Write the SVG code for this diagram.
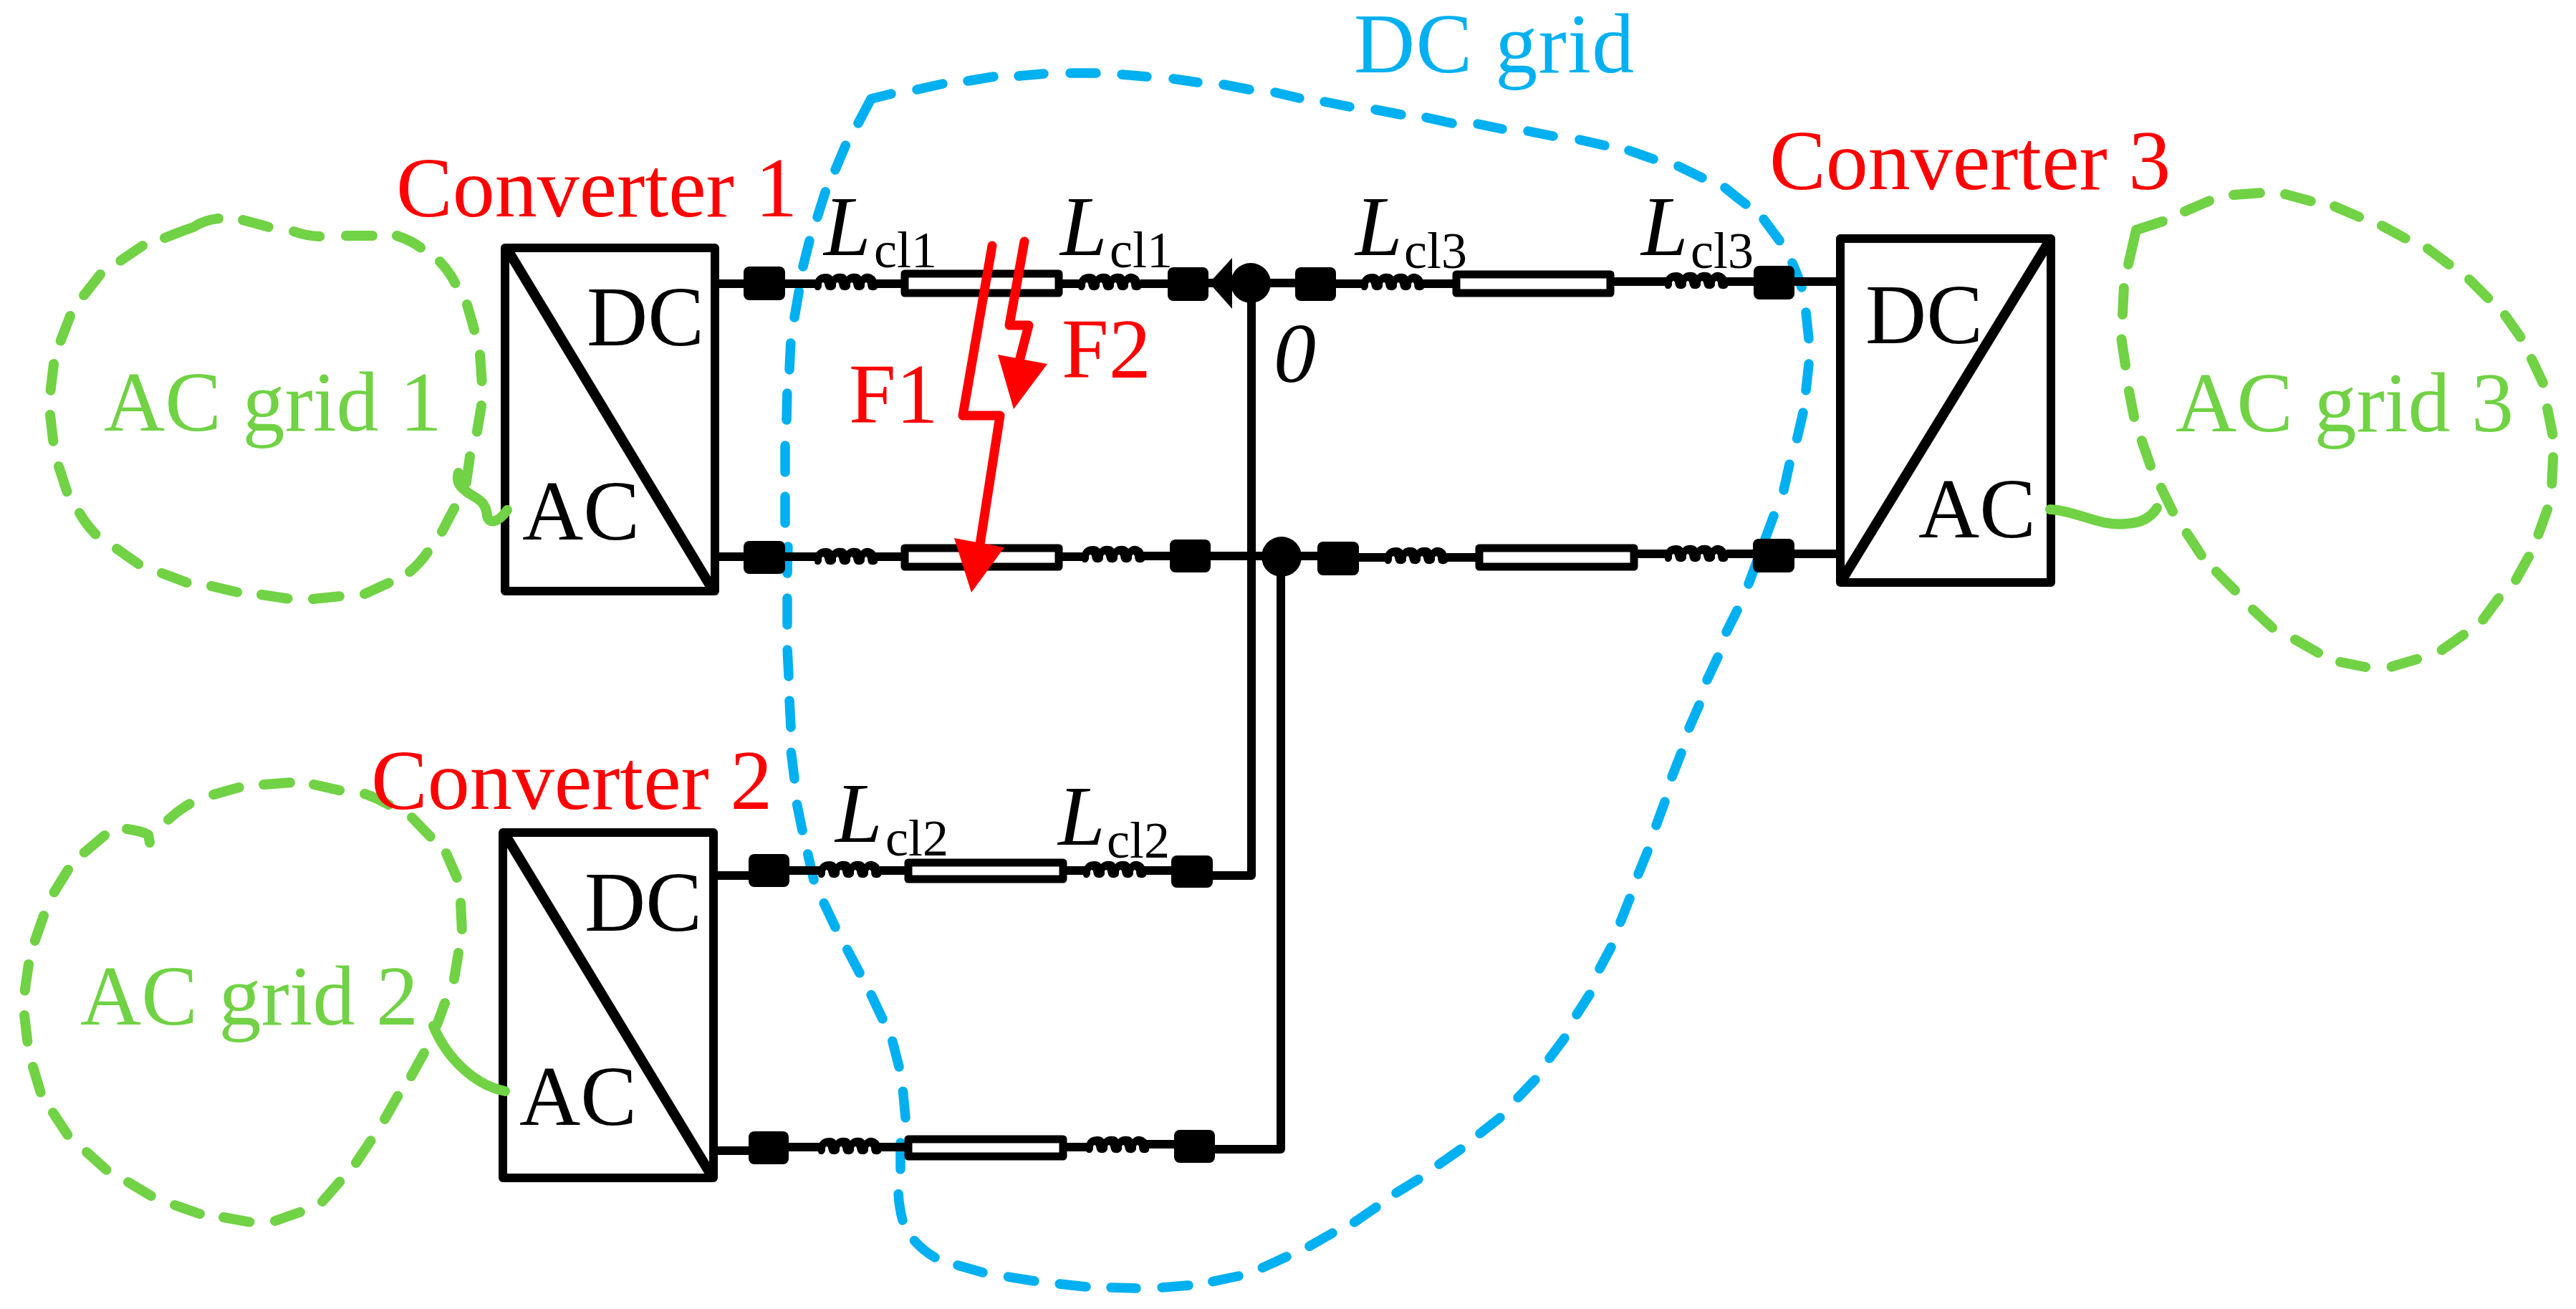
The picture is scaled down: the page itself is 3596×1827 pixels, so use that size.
<svg xmlns="http://www.w3.org/2000/svg" xmlns:xlink="http://www.w3.org/1999/xlink" width="3596" height="1827" viewBox="0 0 3596 1827">
<style>
text{font-family:"Liberation Serif","Times New Roman",serif;font-size:118px}
.red{fill:#ff0000}.grn{fill:#70d244}.blu{fill:#00b0f0}.blk{fill:#000}
.it{font-style:italic}.sub{font-size:72px}
.box{fill:#fff;stroke:#000;stroke-width:12;stroke-linejoin:round}
.diag{fill:none;stroke:#000;stroke-width:14}
.wire{fill:none;stroke:#000;stroke-width:12;stroke-linejoin:round;stroke-linecap:butt}
.sq{fill:#000}
.res{fill:#fff;stroke:#000;stroke-width:11;stroke-linejoin:round}
.gd{fill:none;stroke:#70d244;stroke-width:14;stroke-linecap:round;stroke-linejoin:round}
.bd{fill:none;stroke:#00b0f0;stroke-width:13.5;stroke-linecap:round;stroke-linejoin:round}
.trim{stroke-dasharray:37 300}
.bolt{fill:none;stroke:#ff0000;stroke-width:13;stroke-linecap:round;stroke-linejoin:round}
</style>
<defs>
<path id="coil" d="M0,14 Q3,2 16,2 Q22,2 25,6 Q30,1 38,2 Q42,2 45,6 Q50,1 58,2 Q62,2 65,6 Q70,1 76,2 Q84,3 88,14 L88,22 Q85,26 80,25 Q74,25 74,16 Q72,12 70,16 L70,20 Q68,26 61,25 Q55,25 54,16 Q52,12 50,16 L50,20 Q48,26 41,25 Q35,25 34,16 Q32,12 30,16 L30,20 Q28,26 21,25 Q15,25 14,16 Q12,12 10,16 L10,20 Q8,26 4,25 Q0,25 0,20 Z"/>
</defs>
<rect width="3596" height="1827" fill="#fff"/>

<g id="dc-grid">
<path class="bd" d="M1198,172L1216,138L1244,131M2476,720L2441,815"/>
<path class="bd trim" d="M1280,125L1316,117M1351,113L1387,107M1422,106L1457,103M1494,102L1530,102M1566,104L1601,107M1638,110L1672,115M1708,118L1744,125M1780,129L1814,137M1849,142L1884,149M1920,153L1956,160M1991,164L2027,172M2063,173L2097,180M2133,183L2168,190M2205,195L2240,203M2274,210L2308,222M2343,232L2376,248M2408,262Q2424,275 2437,285M2462,306Q2476,325 2485,337M2502,367Q2510,385 2515,401M2521,436L2525,473M2525,508L2521,545M2517,576L2508,615M2498,648L2490,684M2425,852L2410,882M2398,917L2383,949M2372,984L2358,1016M2347,1051L2334,1084M2324,1119L2312,1152M2300,1188L2287,1220M2275,1254L2262,1287M2249,1322L2233,1352M2219,1388L2201,1416M2184,1449L2163,1477M2143,1507L2119,1532M2094,1560L2066,1582M2039,1604L2009,1625M1980,1646L1949,1665M1921,1685L1889,1707M1860,1721L1827,1740M1796,1754L1761,1770M1729,1781L1691,1789M1659,1794L1621,1797M1586,1798L1551,1797M1516,1796L1479,1792M1444,1788L1407,1782M1372,1776L1337,1766M1305,1755Q1288,1745 1276,1731M1260,1703Q1255,1685 1254,1664M1257,1632L1257,1593M1264,1560L1260,1518M1255,1489L1245,1450M1232,1422L1214,1384M1200,1358L1181,1322M1166,1294L1149,1258M1136,1228L1127,1189M1120,1159L1112,1120M1109,1087L1104,1047M1104,1015L1102,977M1101,944L1099,904M1099,872L1099,832M1099,800L1100,760M1096,730L1096,689M1096,659L1096,617M1098,586L1099,544M1102,516L1104,473M1109,443L1116,402M1121,372L1131,332M1141,303L1153,265M1166,237L1182,199"/>
<text class="blu" x="1890" y="101" letter-spacing="1.3">DC grid</text>
</g>

<g id="connectors">
<path class="wire" d="M998,396H1040M1094,396H1140M1222,396H1260M1480,396H1508M1592,396H1634"/>
<path class="wire" d="M1685,395H1810M1862,396H1904M1984,396H2036M2245,393H2328M2408,393H2450M2503,393H2566"/>
<path class="wire" d="M998,777H1040M1094,777H1140M1222,777H1260M1480,777H1514M1596,776H1636M1688,776H1789H1842M1895,778H1936M2018,778H2062M2284,773H2327M2410,773H2450M2503,773H2566"/>
<path class="wire" d="M996,1222H1047M1099,1215H1145M1227,1215H1268M1487,1215H1515M1596,1215H1637M1691,1222H1747V395"/>
<path class="wire" d="M996,1606H1047M1099,1601H1145M1227,1601H1268M1487,1601H1519M1600,1597H1641M1694,1604H1788V778"/>
</g>

<g id="line-components">
<rect class="res" x="1263" y="382" width="215" height="27"/>
<rect class="res" x="2033" y="383" width="215" height="26"/>
<rect class="res" x="1263" y="765" width="215" height="26"/>
<rect class="res" x="2065" y="765" width="216" height="26"/>
<rect class="res" x="1268" y="1204" width="216" height="23"/>
<rect class="res" x="1268" y="1590" width="216" height="24"/>
<use href="#coil" x="1137" y="380"/><use href="#coil" x="1505" y="380"/><use href="#coil" x="1900" y="380"/><use href="#coil" x="2324" y="378"/>
<use href="#coil" x="1137" y="763"/><use href="#coil" x="1510" y="760"/><use href="#coil" x="1933" y="762"/><use href="#coil" x="2324" y="759"/>
<use href="#coil" x="1142" y="1200"/><use href="#coil" x="1512" y="1200"/>
<use href="#coil" x="1142" y="1586"/><use href="#coil" x="1516" y="1584"/>
<rect class="sq" x="1038" y="372" width="58" height="47" rx="8"/>
<rect class="sq" x="1630" y="373" width="57" height="47" rx="8"/>
<rect class="sq" x="1808" y="373" width="57" height="47" rx="8"/>
<rect class="sq" x="2448" y="371" width="57" height="47" rx="8"/>
<rect class="sq" x="1038" y="755" width="58" height="46" rx="8"/>
<rect class="sq" x="1633" y="753" width="57" height="46" rx="8"/>
<rect class="sq" x="1839" y="756" width="58" height="47" rx="8"/>
<rect class="sq" x="2447" y="752" width="58" height="47" rx="8"/>
<rect class="sq" x="1045" y="1192" width="57" height="46" rx="8"/>
<rect class="sq" x="1635" y="1194" width="58" height="45" rx="8"/>
<rect class="sq" x="1045" y="1579" width="56" height="46" rx="8"/>
<rect class="sq" x="1639" y="1577" width="57" height="46" rx="8"/>
</g>

<g id="node-0">
<circle cx="1746" cy="395" r="28"/>
<polygon points="1688,395 1720,360 1720,431"/>
<text class="blk it" x="1778" y="533">0</text>
</g>
<g id="junction-2"><circle cx="1789" cy="777" r="28"/></g>

<g id="converter-1">
<rect class="box" x="705" y="346" width="293" height="479"/>
<line class="diag" x1="707" y1="346" x2="996" y2="825"/>
<text class="blk" x="819" y="482">DC</text>
<text class="blk" x="729" y="753">AC</text>
<text class="red" x="553" y="302">Converter 1</text>
</g>
<g id="converter-2">
<rect class="box" x="702" y="1162" width="294" height="482"/>
<line class="diag" x1="704" y1="1163" x2="994" y2="1642"/>
<text class="blk" x="816" y="1299">DC</text>
<text class="blk" x="725" y="1570">AC</text>
</g>
<g id="converter-3">
<rect class="box" x="2569" y="333" width="294" height="480"/>
<line class="diag" x1="2863" y1="333" x2="2569" y2="813"/>
<text class="blk" x="2604" y="479">DC</text>
<text class="blk" x="2678" y="750">AC</text>
<text class="red" x="2470" y="264">Converter 3</text>
</g>

<g id="ac-grid-1">
<path class="gd" d="M305,305Q285,307 270,317Q250,324 230,332"/>
<path class="gd trim" d="M656,637L650,680M672,566L665,608M670,495L673,537M652,425L664,467M614,365Q630,382 638,401M554,329Q575,336 589,347M483,329L523,329M410,323Q430,330 449,330M339,307L379,318M199,343L165,366M140,383L114,416M98,441L83,480M75,508L70,550M70,579L75,622M82,651L95,691M111,716Q122,735 137,749M163,766L196,789M226,800L263,814M295,818L333,827M365,830L405,836M437,836L477,832M509,829L546,812M572,798Q588,785 600,766M617,742L637,704"/>
<path class="gd" d="M708,712C695,730 683,732 680,720C678,695 660,695 650,685C640,678 637,670 640,660"/>
<text class="grn" x="145" y="601">AC grid 1</text>
</g>
<g id="ac-grid-2">
<path class="gd" d="M177,1157Q198,1160 207,1165L209,1176"/>
<path class="gd trim" d="M621,1400L610,1430M640,1330L633,1372M643,1260L645,1301M623,1191L640,1230M575,1141L602,1169M509,1108Q530,1115 551,1128M438,1095L478,1104M368,1095L409,1092M298,1109L337,1098M235,1144Q250,1130 268,1120M146,1166L114,1193M95,1214L72,1251M61,1278L47,1318M40,1346L34,1387M34,1417L39,1459M46,1489L58,1529M74,1553L97,1588M121,1608L151,1635M179,1650L214,1671M244,1682L281,1695M312,1699L351,1706M384,1704L421,1691M450,1677L478,1645M497,1623L521,1587M537,1562L558,1525M574,1502L595,1464"/>
<path class="gd" d="M605,1432C625,1480 665,1515 705,1523"/>
<text class="grn" x="112" y="1430">AC grid 2</text>
</g>
<g id="ac-grid-3">
<path class="gd" d="M2971,369L2982,321L3019,309"/>
<path class="gd trim" d="M3050,295L3087,279M3118,272L3158,269M3190,271L3227,281M3259,288L3296,304M3325,315L3362,335M3389,347L3424,373M3447,390L3476,419M3497,440L3521,474M3534,501L3552,539M3556,570L3564,610M3564,638L3562,681M3556,711L3542,750M3530,777L3509,815M3488,835L3463,869M3439,886L3406,909M3374,920L3337,931M3302,931L3267,924M3236,911L3201,891M3172,876L3143,849M3120,824L3093,797M3073,775L3050,740M3033,714L3015,677M3002,650L2988,610M2979,582L2971,541M2967,510L2961,470M2963,439L2965,399"/>
<path class="gd" d="M2862,711C2900,713 2930,735 2968,731C2990,730 3003,722 3011,709"/>
<text class="grn" x="3037" y="602">AC grid 3</text>
</g>
<text id="label-converter-2" class="red" x="518" y="1129">Converter 2</text>

<g id="labels">
<text class="blk"><tspan class="it" x="1150" y="356">L</tspan><tspan class="sub" x="1220" y="373">cl1</tspan></text>
<text class="blk"><tspan class="it" x="1480" y="356">L</tspan><tspan class="sub" x="1549" y="373">cl1</tspan></text>
<text class="blk"><tspan class="it" x="1892" y="356">L</tspan><tspan class="sub" x="1960" y="374">cl3</tspan></text>
<text class="blk"><tspan class="it" x="2291" y="356">L</tspan><tspan class="sub" x="2360" y="374">cl3</tspan></text>
<text class="blk"><tspan class="it" x="1166" y="1175">L</tspan><tspan class="sub" x="1236" y="1194">cl2</tspan></text>
<text class="blk"><tspan class="it" x="1477" y="1179">L</tspan><tspan class="sub" x="1545" y="1197">cl2</tspan></text>
</g>

<g id="fault-F1">
<path class="bolt" d="M1385,343L1344,580H1396L1368,760"/>
<polygon fill="#ff0000" points="1332,751 1402,764 1356,827"/>
<text class="red" x="1185" y="590">F1</text>
</g>
<g id="fault-F2">
<path class="bolt" d="M1430,337L1409,454H1436L1424,500"/>
<polygon fill="#ff0000" points="1393,495 1462,508 1415,571"/>
<text class="red" x="1482" y="527">F2</text>
</g>
</svg>
